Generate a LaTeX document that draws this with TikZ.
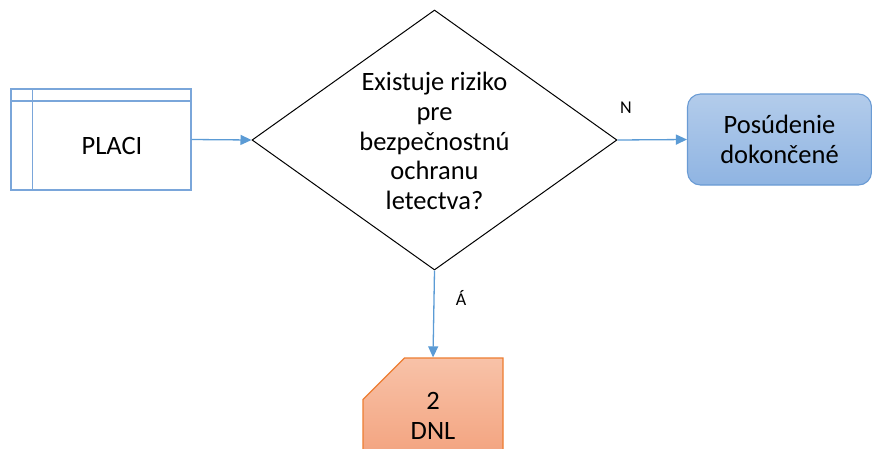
\documentclass[tikz,border=0pt]{standalone}
\usepackage{fontspec}
\setmainfont{Carlito}
\usetikzlibrary{arrows.meta,shapes.geometric,shapes.misc}
\definecolor{conn}{HTML}{5B9BD5}
\definecolor{blueline}{HTML}{7AA6DA}
\definecolor{blueedge}{HTML}{6A9BD4}
\definecolor{bluetop}{HTML}{B3CCEB}
\definecolor{bluebot}{HTML}{8FB4E2}
\definecolor{orgedge}{HTML}{ED7D31}
\definecolor{orgtop}{HTML}{F8C2A8}
\definecolor{orgbot}{HTML}{F29E78}
\tikzset{
  txt/.style={font=\fontsize{26.5}{29.7}\selectfont, align=center},
  lbl/.style={font=\fontsize{18}{21}\selectfont},
  conn/.style={draw=conn, line width=1.3pt, -{Triangle[length=11pt,width=10pt]}},
}
\begin{document}
\begin{tikzpicture}[x=1pt,y=-1pt]
\useasboundingbox (0,0) rectangle (872,448);
\clip (0,0) rectangle (872,448);
% PLACI
\node[draw=blueline, line width=1.3pt, minimum width=180pt, minimum height=101pt, inner sep=0pt] (placi) at (101,139.5) {};
\draw[blueline, line width=1.3pt] ([yshift=-12.5pt]placi.north west) -- ([yshift=-12.5pt]placi.north east);
\draw[blueline, line width=1.3pt] ([xshift=22pt]placi.north west) -- ([xshift=22pt]placi.south west);
\node[txt] (placitxt) at (112,146) {PLACI};
% decision
\node[diamond, draw=black, line width=1pt, minimum width=365pt, minimum height=260pt, inner sep=0pt] (dia) at (434.5,140) {};
\node[txt] (q) at (434.5,141) {Existuje riziko\\pre\\bezpečnostnú\\ochranu\\letectva?};
% end
\node[draw=blueedge, line width=1.1pt, rounded corners=13pt, top color=bluetop, bottom color=bluebot, minimum width=184pt, minimum height=91pt, inner sep=0pt, txt] (done) at (779.5,139.5) {Posúdenie\\dokončené};
% DNL
\node[chamfered rectangle, chamfered rectangle corners=north west, chamfered rectangle xsep=29pt, chamfered rectangle ysep=18pt, draw=orgedge, line width=1.3pt, top color=orgtop, bottom color=orgbot, minimum width=140pt, minimum height=116pt, inner sep=0pt, txt] (dnl) at (433,416) {2\\DNL};
% connectors
\draw[conn] (placi.east) -- (dia.west);
\draw[conn] (dia.east) -- (done.west);
\draw[conn] (dia.south) -- (dnl.north);
\node[lbl] (n) at (626,108) {N};
\node[lbl] (a) at (461,298) {Á};
\end{tikzpicture}
\end{document}
